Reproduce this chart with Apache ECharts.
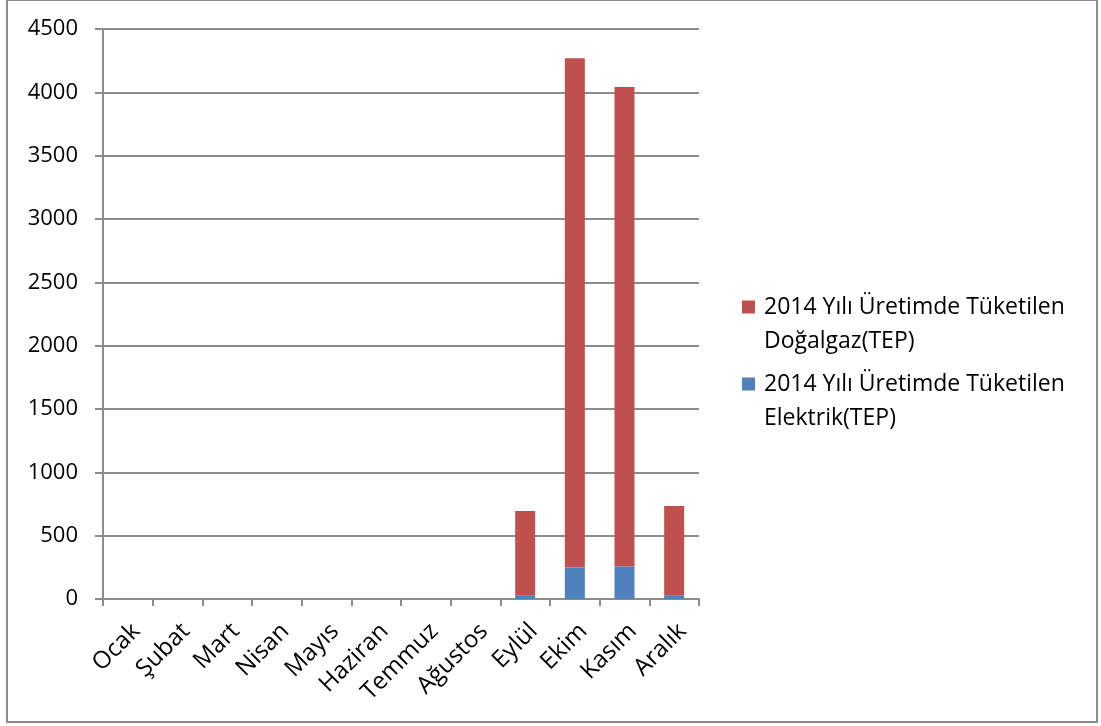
<!DOCTYPE html>
<html>
<head>
<meta charset="utf-8">
<script src="https://cdn.jsdelivr.net/npm/echarts@6/dist/echarts.min.js"></script>
<style>
  html, body { margin: 0; padding: 0; background: #fff; }
  #chart { width: 1101px; height: 726px; }
</style>
</head>
<body>
<div id="chart"></div>
<script>
// Monthly energy consumed in production, 2014 (TEP)
const months = ['Ocak', 'Şubat', 'Mart', 'Nisan', 'Mayıs', 'Haziran', 'Temmuz', 'Ağustos', 'Eylül', 'Ekim', 'Kasım', 'Aralık'];
const elektrik = [0, 0, 0, 0, 0, 0, 0, 0, 30, 250, 258, 30];
const dogalgaz = [0, 0, 0, 0, 0, 0, 0, 0, 665, 4020, 3784, 704];
const yTicks = { min: 0, max: 4500, interval: 500 };

const nameDogalgaz = '2014 Yılı Üretimde Tüketilen\nDoğalgaz(TEP)';
const nameElektrik = '2014 Yılı Üretimde Tüketilen\nElektrik(TEP)';

const FONT = '"Open Sans", Lato, sans-serif';
const GRAY = '#8c8c8c';

// Legend swatch: a square sitting on the first text line; the bare
// move-to point widens/lengthens the icon box without drawing anything.
const SWATCH = 'path://M0,0L13,0L13,13L0,13Z M17,47';

const chart = echarts.init(document.getElementById('chart'), null, { renderer: 'canvas' });
chart.setOption({
  backgroundColor: '#ffffff',
  animation: false,
  textStyle: { fontFamily: FONT },
  graphic: [{
    type: 'rect',
    shape: { x: 7, y: 0, width: 1090, height: 722 },
    style: { fill: 'none', stroke: GRAY, lineWidth: 2 },
    silent: true
  }],
  grid: { left: 103, right: 402, top: 29, bottom: 127 },
  legend: {
    orient: 'vertical',
    left: 742,
    top: 290,
    padding: 0,
    itemWidth: 17,
    itemHeight: 47,
    itemGap: 9,
    icon: SWATCH,
    data: [nameDogalgaz, nameElektrik],
    textStyle: {
      fontFamily: FONT,
      fontSize: 23,
      color: '#000',
      lineHeight: 34
    }
  },
  xAxis: {
    type: 'category',
    data: months,
    boundaryGap: true,
    axisLine: { show: true, lineStyle: { color: GRAY, width: 2 } },
    axisTick: { show: true, alignWithLabel: false, length: 7, lineStyle: { color: GRAY, width: 2 } },
    axisLabel: {
      interval: 0,
      rotate: 45,
      margin: 20,
      verticalAlign: 'top',
      lineHeight: 24,
      fontFamily: FONT,
      fontSize: 24,
      color: '#000'
    },
    splitLine: { show: false }
  },
  yAxis: {
    type: 'value',
    min: yTicks.min,
    max: yTicks.max,
    interval: yTicks.interval,
    axisLine: { show: true, lineStyle: { color: GRAY, width: 2 } },
    axisTick: { show: true, length: 8, lineStyle: { color: GRAY, width: 2 } },
    axisLabel: {
      margin: 25,
      fontFamily: FONT,
      fontSize: 22,
      color: '#000',
      formatter: v => String(v)
    },
    splitLine: { show: true, lineStyle: { color: GRAY, width: 2 } }
  },
  series: [
    {
      name: nameElektrik,
      type: 'bar',
      stack: 'total',
      barWidth: 20,
      itemStyle: { color: '#4F81BD' },
      data: elektrik
    },
    {
      name: nameDogalgaz,
      type: 'bar',
      stack: 'total',
      barWidth: 20,
      itemStyle: { color: '#C0504D' },
      data: dogalgaz
    }
  ]
});
</script>
</body>
</html>
